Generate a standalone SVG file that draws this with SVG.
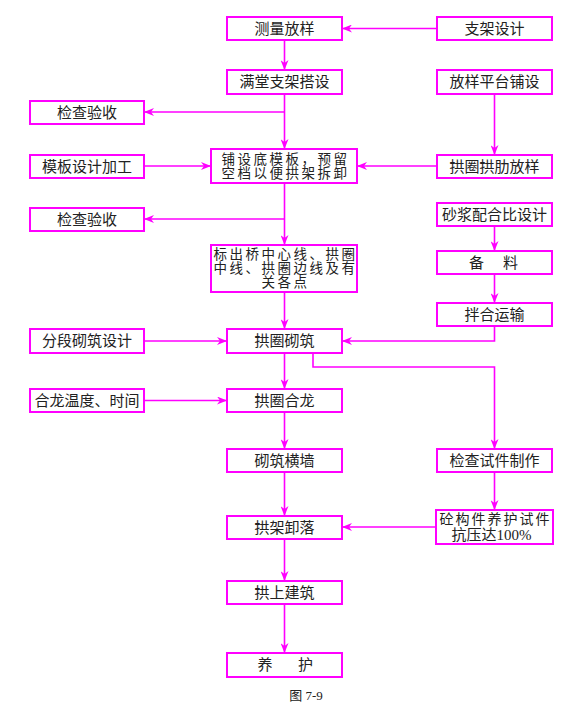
<svg xmlns="http://www.w3.org/2000/svg" width="576" height="713" viewBox="0 0 576 713">
<style>
.box{fill:#fff;stroke:#ff00ff;stroke-width:2}
.t{font-family:"Liberation Serif","Noto Sans CJK SC",serif;font-size:15px;fill:#222;text-anchor:middle;dominant-baseline:central}
.m{font-size:13.5px;letter-spacing:2.5px}
.c{fill:none;stroke:#ff00ff;stroke-width:1.6}
</style>
<defs>
<marker id="ah" viewBox="0 0 10 8" refX="10" refY="4" markerWidth="10" markerHeight="8" markerUnits="userSpaceOnUse" orient="auto">
<path d="M0,0 L10,4 L0,8 L3,4 z" fill="#ff00ff"/>
</marker>
</defs>
<rect width="576" height="713" fill="#fff"/>
<g id="connectors">
<path class="c" d="M437,28.5 H342" marker-end="url(#ah)"/>
<path class="c" d="M284.5,40 V70" marker-end="url(#ah)"/>
<path class="c" d="M284.5,94 V149" marker-end="url(#ah)"/>
<path class="c" d="M284.5,112 H144" marker-end="url(#ah)"/>
<path class="c" d="M494.5,94 V155" marker-end="url(#ah)"/>
<path class="c" d="M144,166 H211" marker-end="url(#ah)"/>
<path class="c" d="M437,166 H357" marker-end="url(#ah)"/>
<path class="c" d="M284.5,183 V245" marker-end="url(#ah)"/>
<path class="c" d="M284.5,219 H144" marker-end="url(#ah)"/>
<path class="c" d="M494.5,226 V251" marker-end="url(#ah)"/>
<path class="c" d="M494.5,274 V303" marker-end="url(#ah)"/>
<path class="c" d="M284.5,292 V329" marker-end="url(#ah)"/>
<path class="c" d="M144,341 H227" marker-end="url(#ah)"/>
<path class="c" d="M494.5,326 V341 H342" marker-end="url(#ah)"/>
<path class="c" d="M313,353 V367 H494.5 V449" marker-end="url(#ah)"/>
<path class="c" d="M284.5,353 V389" marker-end="url(#ah)"/>
<path class="c" d="M144,400.5 H227" marker-end="url(#ah)"/>
<path class="c" d="M284.5,412 V449" marker-end="url(#ah)"/>
<path class="c" d="M284.5,472 V516" marker-end="url(#ah)"/>
<path class="c" d="M494.5,472 V510" marker-end="url(#ah)"/>
<path class="c" d="M436,527 H342" marker-end="url(#ah)"/>
<path class="c" d="M284.5,539 V581" marker-end="url(#ah)"/>
<path class="c" d="M284.5,604 V653" marker-end="url(#ah)"/>
</g>
<g id="n1"><rect class="box" x="227" y="17" width="115" height="23"/><text class="t" x="284.5" y="28.5">测量放样</text></g>
<g id="n2"><rect class="box" x="437" y="17" width="115" height="23"/><text class="t" x="494.5" y="28.5">支架设计</text></g>
<g id="n3"><rect class="box" x="227" y="70" width="115" height="24"/><text class="t" x="284.5" y="82">满堂支架搭设</text></g>
<g id="n4"><rect class="box" x="437" y="70" width="115" height="24"/><text class="t" x="494.5" y="82">放样平台铺设</text></g>
<g id="n5"><rect class="box" x="30" y="101" width="114" height="23"/><text class="t" x="87" y="112.5">检查验收</text></g>
<g id="n6"><rect class="box" x="30" y="155" width="114" height="23"/><text class="t" x="87" y="166.5">模板设计加工</text></g>
<g id="n7"><rect class="box" x="211" y="149" width="146" height="34"/><text class="t m" x="285.5" y="159">铺设底模板，预留</text><text class="t m" x="285.5" y="173.5">空档以便拱架拆卸</text></g>
<g id="n8"><rect class="box" x="437" y="155" width="115" height="23"/><text class="t" x="494.5" y="166.5">拱圈拱肋放样</text></g>
<g id="n9"><rect class="box" x="30" y="208" width="114" height="23"/><text class="t" x="87" y="219.5">检查验收</text></g>
<g id="n10"><rect class="box" x="437" y="203" width="115" height="23"/><text class="t" x="494.5" y="214.5">砂浆配合比设计</text></g>
<g id="n11"><rect class="box" x="211" y="245" width="146" height="47"/><text class="t m" x="285.5" y="254.5" letter-spacing="1">标出桥中心线、拱圈</text><text class="t m" x="285.5" y="268.5">中线、拱圈边线及有</text><text class="t m" x="285.5" y="282.5">关各点</text></g>
<g id="n12"><rect class="box" x="437" y="251" width="115" height="23"/><text class="t" x="494.5" y="262.5" letter-spacing="2">备　料</text></g>
<g id="n13"><rect class="box" x="437" y="303" width="115" height="23"/><text class="t" x="494.5" y="314.5">拌合运输</text></g>
<g id="n14"><rect class="box" x="30" y="329" width="114" height="24"/><text class="t" x="87" y="341">分段砌筑设计</text></g>
<g id="n15"><rect class="box" x="227" y="329" width="115" height="24"/><text class="t" x="284.5" y="341">拱圈砌筑</text></g>
<g id="n16"><rect class="box" x="30" y="389" width="114" height="23"/><text class="t" x="87" y="400.5">合龙温度、时间</text></g>
<g id="n17"><rect class="box" x="227" y="389" width="115" height="23"/><text class="t" x="284.5" y="400.5">拱圈合龙</text></g>
<g id="n18"><rect class="box" x="227" y="449" width="115" height="23"/><text class="t" x="284.5" y="460.5">砌筑横墙</text></g>
<g id="n19"><rect class="box" x="437" y="449" width="115" height="23"/><text class="t" x="494.5" y="460.5">检查试件制作</text></g>
<g id="n20"><rect class="box" x="227" y="516" width="115" height="23"/><text class="t" x="284.5" y="527.5">拱架卸落</text></g>
<g id="n21"><rect class="box" x="436" y="510" width="117" height="34"/><text class="t m" x="495.5" y="519.5" style="letter-spacing:2px;font-size:14px">砼构件养护试件</text><text class="t" x="491.5" y="535">抗压达100%</text></g>
<g id="n22"><rect class="box" x="227" y="581" width="115" height="23"/><text class="t" x="284.5" y="592.5">拱上建筑</text></g>
<g id="n23"><rect class="box" x="227" y="653" width="115" height="24"/><text class="t" x="284.5" y="665" letter-spacing="-1.5">养　　护</text></g>
<text class="t" x="306" y="695" style="font-size:13px">图 7-9</text>
</svg>
